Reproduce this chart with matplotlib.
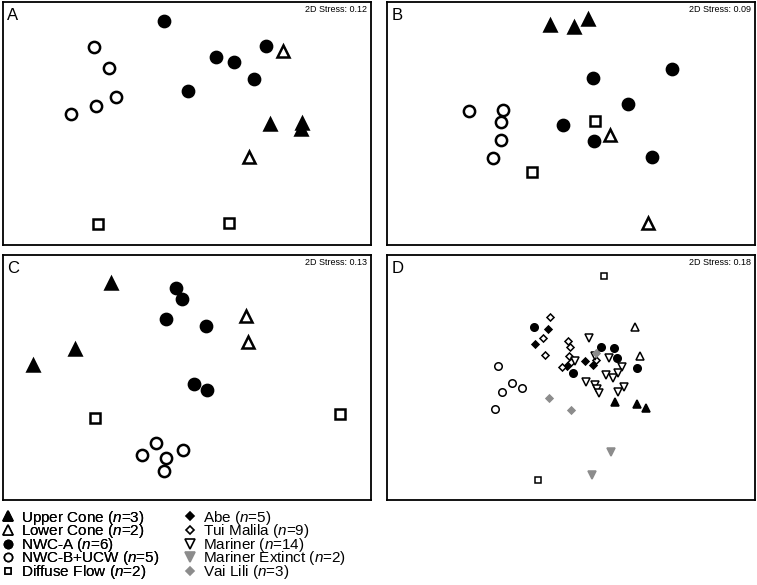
import matplotlib.pyplot as plt
from matplotlib.lines import Line2D

plt.rcParams['font.family'] = ['Liberation Sans', 'DejaVu Sans']
plt.rcParams['mathtext.fontset'] = 'custom'
plt.rcParams['mathtext.it'] = 'Liberation Sans:italic'
plt.rcParams['mathtext.rm'] = 'Liberation Sans'

# nMDS ordination coordinates (arbitrary units)
A_upper = [(267, 121), (299, 122), (298, 116)]
A_lower = [(280, 194), (246, 88)]
A_nwca = [(161, 224), (213, 188), (231, 183), (263, 199), (251, 166), (185, 154)]
A_nwcb = [(91, 198), (106, 177), (113, 148), (93, 139), (68, 131)]
A_diffuse = [(95, 21), (226, 22)]

B_upper = [(163, 220), (187, 218), (201, 226)]
B_lower = [(223, 110), (261, 22)]
B_nwca = [(206, 167), (285, 176), (241, 141), (176, 120), (207, 104), (265, 88)]
B_nwcb = [(82, 134), (116, 135), (114, 123), (114, 105), (106, 87)]
B_diffuse = [(208, 124), (145, 73)]

C_upper = [(108, 217), (72, 151), (30, 135)]
C_lower = [(243, 184), (245, 158)]
C_nwca = [(173, 212), (179, 201), (163, 181), (203, 174), (191, 116), (204, 110)]
C_nwcb = [(153, 57), (139, 45), (163, 42), (180, 50), (161, 29)]
C_diffuse = [(92, 82), (337, 86)]

D_upper = [(228, 98), (250, 96), (259, 92)]
D_lower = [(248, 173), (253, 144)]
D_nwca = [(147, 173), (214, 153), (227, 152), (230, 142), (186, 127), (250, 132)]
D_nwcb = [(111, 134), (125, 117), (135, 112), (115, 108), (108, 91)]
D_diffuse = [(217, 224), (151, 20)]
D_abe = [(161, 171), (148, 156), (198, 139), (206, 135), (180, 134)]
D_tui = [(163, 183), (156, 162), (158, 145), (181, 159), (183, 153), (182, 144),
         (175, 133), (184, 138), (209, 140)]
D_mariner = [(202, 162), (188, 139), (208, 144), (222, 142), (235, 133), (231, 127),
             (219, 125), (226, 122), (199, 118), (208, 115), (210, 111), (212, 107),
             (237, 113), (231, 108)]
D_mar_ext = [(224, 48), (205, 25)]
D_vailili = [(162, 102), (184, 90), (209, 147)]

stress = {'A': 0.12, 'B': 0.09, 'C': 0.13, 'D': 0.18}

labels = ['Upper Cone', 'Lower Cone', 'NWC-A', 'NWC-B+UCW', 'Diffuse Flow',
          'Abe', 'Tui Malila', 'Mariner', 'Mariner Extinct', 'Vai Lili']
counts = [3, 2, 6, 5, 2, 5, 9, 14, 2, 3]

grey = '#8c8c8c'
# marker, face, edge, size scale
style = {
    'Upper Cone': ('^', 'black', 'black', 1.0),
    'Lower Cone': ('^', 'white', 'black', 1.0),
    'NWC-A': ('o', 'black', 'black', 0.9),
    'NWC-B+UCW': ('o', 'white', 'black', 0.9),
    'Diffuse Flow': ('s', 'white', 'black', 0.75),
    'Abe': ('D', 'black', 'black', 0.6),
    'Tui Malila': ('D', 'white', 'black', 0.6),
    'Mariner': ('v', 'white', 'black', 1.0),
    'Mariner Extinct': ('v', grey, grey, 1.0),
    'Vai Lili': ('D', grey, grey, 0.6),
}

panels = {
    'A': {'Upper Cone': A_upper, 'Lower Cone': A_lower, 'NWC-A': A_nwca,
          'NWC-B+UCW': A_nwcb, 'Diffuse Flow': A_diffuse},
    'B': {'Upper Cone': B_upper, 'Lower Cone': B_lower, 'NWC-A': B_nwca,
          'NWC-B+UCW': B_nwcb, 'Diffuse Flow': B_diffuse},
    'C': {'Upper Cone': C_upper, 'Lower Cone': C_lower, 'NWC-A': C_nwca,
          'NWC-B+UCW': C_nwcb, 'Diffuse Flow': C_diffuse},
    'D': {'Upper Cone': D_upper, 'Lower Cone': D_lower, 'NWC-A': D_nwca,
          'NWC-B+UCW': D_nwcb, 'Diffuse Flow': D_diffuse, 'Abe': D_abe,
          'Tui Malila': D_tui, 'Mariner': D_mariner, 'Mariner Extinct': D_mar_ext,
          'Vai Lili': D_vailili},
}

fig = plt.figure(figsize=(7.57, 5.85), dpi=100)
rects = {
    'A': [0.004, 0.581, 0.486, 0.415],
    'B': [0.511, 0.581, 0.486, 0.415],
    'C': [0.004, 0.145, 0.486, 0.419],
    'D': [0.511, 0.145, 0.486, 0.419],
}

for key, groups in panels.items():
    ax = fig.add_axes(rects[key])
    big = key != 'D'
    ms = 9.0 if big else 6.0
    lw = 1.8 if big else 1.1
    for name, pts in groups.items():
        mk, fc, ec, sc = style[name]
        xs = [p[0] for p in pts]
        ys = [p[1] for p in pts]
        ax.plot(xs, ys, linestyle='none', marker=mk, markersize=ms * sc,
                markerfacecolor=fc, markeredgecolor=ec, markeredgewidth=lw)
    ax.set_xlim(0, 368)
    ax.set_ylim(0, 243 if key in 'AB' else 245)
    ax.set_xticks([])
    ax.set_yticks([])
    for sp in ax.spines.values():
        sp.set_linewidth(1.3)
    ax.text(0.012, 0.975, key, transform=ax.transAxes, ha='left', va='top', fontsize=12)
    ax.text(0.99, 0.99, '2D Stress: %.2f' % stress[key], transform=ax.transAxes,
            ha='right', va='top', fontsize=6.5)

handles = []
for name, n in zip(labels, counts):
    mk, fc, ec, sc = style[name]
    h = Line2D([], [], linestyle='none', marker=mk, markersize=6.5 * sc,
               markerfacecolor=fc, markeredgecolor=ec, markeredgewidth=1.2,
               label=name + ' ($n$=%d)' % n)
    handles.append(h)

leg_kw = dict(loc='upper left', frameon=False, fontsize=11, handlelength=0.8,
              handletextpad=0.45, labelspacing=-0.29, borderpad=0.1)
leg1 = fig.legend(handles=handles[:5], bbox_to_anchor=(-0.009, 0.146), **leg_kw)
fig.add_artist(leg1)
fig.legend(handles=handles[5:], bbox_to_anchor=(0.231, 0.146), **leg_kw)

fig.savefig('out.png', dpi=100)
